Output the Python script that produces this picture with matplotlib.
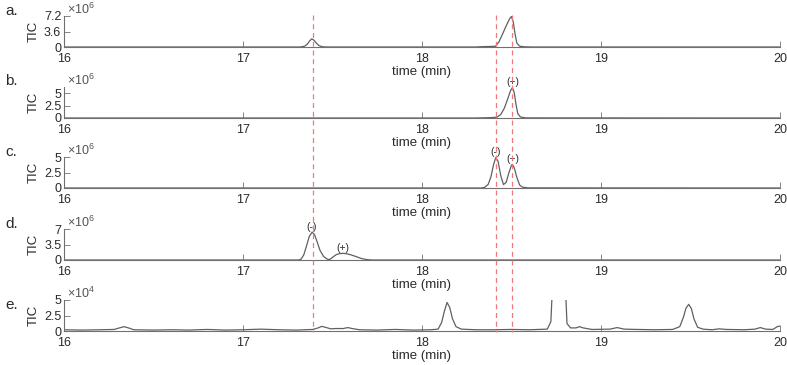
import matplotlib
matplotlib.use("Agg")
import matplotlib.pyplot as plt
from matplotlib.lines import Line2D
from matplotlib.transforms import blended_transform_factory

plt.rcParams['font.family'] = ['Liberation Sans', 'DejaVu Sans']
plt.rcParams['mathtext.fontset'] = 'custom'
plt.rcParams['mathtext.rm'] = 'Liberation Sans'

# traces (time in min, TIC in units of the panel's multiplier)
ta = [16.0, 17.32, 17.345, 17.36, 17.372, 17.384, 17.396, 17.41, 17.425, 17.445, 17.47,
      18.30, 18.34, 18.38, 18.41, 18.43, 18.45, 18.47, 18.49, 18.50, 18.51, 18.52, 18.53,
      18.545, 18.57, 18.62, 20.0]
ya = [0, 0, 0.2, 0.7, 1.4, 1.9, 1.6, 0.9, 0.3, 0.05, 0,
      0, 0.08, 0.12, 0.15, 1.2, 3.0, 4.9, 6.6, 7.1, 5.8, 3.0, 0.9,
      0.2, 0.05, 0, 0]

tb = [16.0, 18.30, 18.36, 18.40, 18.42, 18.44, 18.46, 18.48, 18.495, 18.505, 18.515,
      18.525, 18.535, 18.55, 18.58, 20.0]
yb = [0, 0, 0.05, 0.1, 0.2, 0.7, 2.0, 4.0, 5.6, 6.15, 5.2, 2.8, 0.9, 0.2, 0.02, 0]

tc = [16.0, 18.33, 18.35, 18.37, 18.385, 18.40, 18.412, 18.425, 18.44, 18.455, 18.47,
      18.485, 18.50, 18.505, 18.515, 18.53, 18.545, 18.56, 18.59, 20.0]
yc = [0, 0, 0.1, 0.6, 1.8, 3.8, 4.9, 4.3, 2.0, 0.55, 0.9, 2.4, 3.7, 3.8, 3.3, 1.7, 0.5,
      0.15, 0.02, 0]

td = [16.0, 17.31, 17.325, 17.34, 17.355, 17.37, 17.386, 17.40, 17.415, 17.43, 17.45,
      17.47, 17.485, 17.50, 17.52, 17.54, 17.56, 17.58, 17.60, 17.63, 17.66, 17.69,
      17.72, 20.0]
yd = [0, 0, 0.2, 1.2, 3.2, 5.3, 6.3, 5.7, 4.0, 2.2, 0.8, 0.2, 0.1, 0.6, 1.2, 1.45, 1.5,
      1.4, 1.2, 0.8, 0.35, 0.1, 0, 0]

te = [16.0, 16.1, 16.2, 16.28, 16.31, 16.335, 16.36, 16.39, 16.5, 16.6, 16.7, 16.8,
      16.9, 17.0, 17.1, 17.2, 17.3, 17.39, 17.42, 17.44, 17.46, 17.49, 17.52, 17.56,
      17.585, 17.61, 17.65, 17.75, 17.85, 17.95, 18.05, 18.09, 18.11, 18.125, 18.14,
      18.155, 18.17, 18.19, 18.22, 18.3, 18.4, 18.5, 18.6, 18.7, 18.72, 18.73, 18.745,
      18.785, 18.80, 18.81, 18.83, 18.86, 18.88, 18.90, 18.95, 19.05, 19.09, 19.13, 19.2,
      19.3, 19.4, 19.44, 19.46, 19.475, 19.49, 19.505, 19.52, 19.54, 19.57, 19.62, 19.66,
      19.7, 19.8, 19.86, 19.89, 19.92, 19.96, 19.985, 20.0]
ye = [0.2, 0.15, 0.2, 0.25, 0.5, 0.7, 0.5, 0.2, 0.15, 0.2, 0.15, 0.25,
      0.15, 0.2, 0.3, 0.2, 0.15, 0.25, 0.5, 0.75, 0.6, 0.35, 0.4, 0.4,
      0.55, 0.4, 0.2, 0.15, 0.25, 0.15, 0.2, 0.3, 1.4, 3.2, 4.6,
      3.8, 2.0, 0.7, 0.3, 0.2, 0.2, 0.25, 0.2, 0.3, 1.5, 8.0, 25.0,
      25.0, 8.0, 1.2, 0.5, 0.5, 0.7, 0.5, 0.25, 0.3, 0.55, 0.3, 0.25,
      0.2, 0.25, 0.7, 2.2, 3.7, 4.3, 3.6, 1.9, 0.6, 0.3, 0.2, 0.35,
      0.25, 0.2, 0.3, 0.55, 0.3, 0.25, 0.7, 0.8]

times = [ta, tb, tc, td, te]
tics = [ya, yb, yc, yd, ye]
panel_names = ['a.', 'b.', 'c.', 'd.', 'e.']
exponents = [6, 6, 6, 6, 4]
ytop = [7.2, 6.3, 5.0, 7.0, 5.0]
yticks = [[0, 3.6, 7.2], [0, 2.5, 5], [0, 2.5, 5], [0, 3.5, 7], [0, 2.5, 5]]
ytick_labels = [['0', '3.6', '7.2'], ['0', '2.5', '5'], ['0', '2.5', '5'],
                ['0', '3.5', '7'], ['0', '2.5', '5']]
xticks = [16, 17, 18, 19, 20]

# (panel, time, value, text)
peak_marks = [(1, 18.505, 6.15, '(+)'), (2, 18.41, 4.9, '(-)'), (2, 18.505, 3.8, '(+)'),
              (3, 17.386, 6.3, '(-)'), (3, 17.56, 1.5, '(+)')]
ref_times = [17.39, 18.415, 18.505]

W, H = 787, 365
fig = plt.figure(figsize=(W / 100, H / 100), dpi=100)
bottoms_px = [47, 118, 188, 260, 331]
line_col = '#606060'
axis_col = '#707070'
text_col = '#2a2a2a'

axes = []
for i in range(5):
    ax = fig.add_axes([64 / W, 1 - bottoms_px[i] / H, 716 / W, 31 / H])
    ax.plot(times[i], tics[i], color=line_col, lw=0.9)
    ax.set_xlim(16, 20)
    ax.set_ylim(0, ytop[i])
    ax.set_xticks(xticks)
    ax.set_xticklabels([str(x) for x in xticks])
    ax.set_yticks(yticks[i])
    ax.set_yticklabels(ytick_labels[i])
    for s in ['top', 'right']:
        ax.spines[s].set_visible(False)
    for s in ['left', 'bottom']:
        ax.spines[s].set_color(axis_col)
        ax.spines[s].set_linewidth(0.8)
    ax.tick_params(direction='in', length=4, width=0.6, color=axis_col,
                   labelsize=9, labelcolor=text_col)
    ax.tick_params(axis='x', pad=4)
    ax.tick_params(axis='y', pad=2)
    ax.set_xlabel('time (min)', fontsize=9.5, color=text_col, labelpad=1)
    ax.set_ylabel('TIC', fontsize=9.5, color=text_col, labelpad=3)
    ax.text(0.004, 0.97, r'$\times10^{%d}$' % exponents[i], transform=ax.transAxes,
            fontsize=9, color='#555555', ha='left', va='bottom')
    ax.patch.set_alpha(0)
    axes.append(ax)

label_y = [11, 81, 152, 224, 305]
for name, y in zip(panel_names, label_y):
    fig.text(5 / W, 1 - y / H, name, fontsize=11, color=text_col, ha='left', va='center')

for p, t, v, s in peak_marks:
    axes[p].text(t, v + 0.1, s, fontsize=7.5, color=text_col, ha='center', va='bottom',
                 clip_on=False)

tr = blended_transform_factory(axes[4].transData, fig.transFigure)
for t in ref_times:
    fig.add_artist(Line2D([t, t], [1 - 15 / H, 1 - 332 / H], transform=tr,
                          color='#f07a7a', lw=0.9, ls=(0, (4, 3)), zorder=5))

fig.savefig('out.png', dpi=100)
